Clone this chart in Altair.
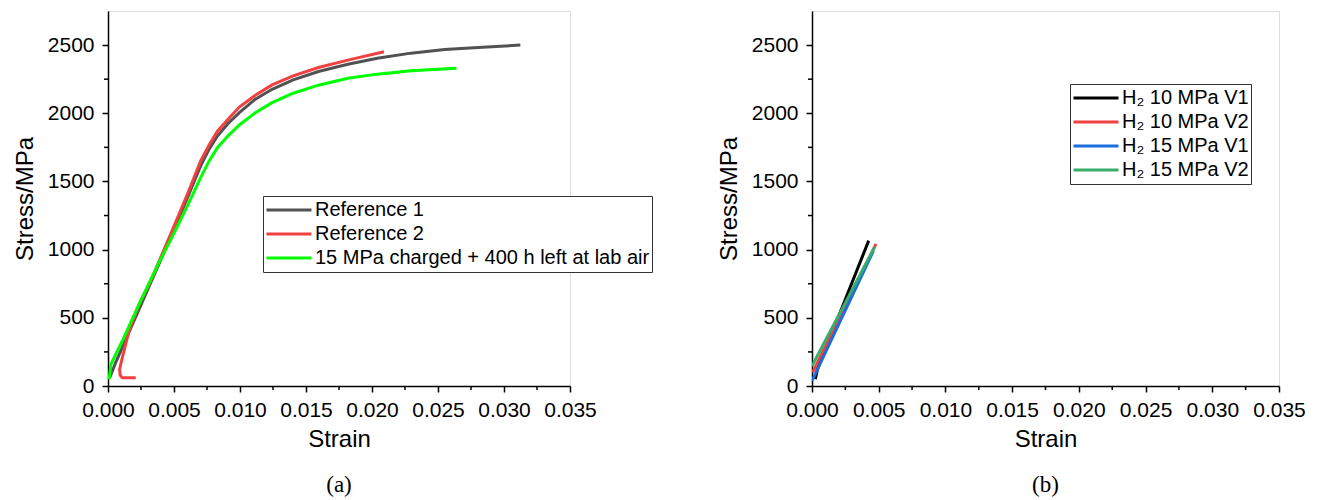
import altair as alt
import pandas as pd

# ---------------- Panel (a) data ----------------
ref1_strain = [0.00013, 0.00058, 0.00383, 0.00494, 0.00606, 0.00701, 0.00765, 0.00829, 0.00908,
               0.00995, 0.01116, 0.01243, 0.01403, 0.01594, 0.01817, 0.0204, 0.02295, 0.0255,
               0.02837, 0.03124]
ref1_stress = [61, 171, 888, 1133, 1391, 1612, 1735, 1833, 1923,
               2004, 2103, 2176, 2245, 2306, 2360, 2404, 2441, 2468,
               2485, 2500]

ref2_strain = [0.0021, 0.00108, 0.00092, 0.00088, 0.00108, 0.00159, 0.00235, 0.00323, 0.00494,
               0.00606, 0.00701, 0.00765, 0.00829, 0.00908, 0.00995, 0.01116, 0.01243, 0.01403,
               0.01594, 0.01817, 0.02091]
ref2_stress = [61, 61, 80, 122, 207, 403, 599, 770, 1158,
               1416, 1649, 1766, 1869, 1955, 2046, 2132, 2208, 2274,
               2336, 2390, 2451]

h15_strain = [0.00008, 0.00023, 0.00108, 0.00235, 0.00383, 0.00494, 0.00606, 0.00701, 0.00765,
              0.00829, 0.00908, 0.00995, 0.01116, 0.01243, 0.01403, 0.01594, 0.01817, 0.0204,
              0.02295, 0.025, 0.0264]
h15_stress = [49, 161, 330, 599, 900, 1109, 1330, 1526, 1649,
              1747, 1833, 1914, 2004, 2078, 2147, 2206, 2257, 2287,
              2311, 2323, 2331]

series_a = ["Reference 1", "Reference 2", "15 MPa charged + 400 h left at lab air"]
colors_a = ["#515151", "#F14040", "#00FF00"]

# ---------------- Panel (b) data ----------------
b10v1_strain = [0.00025, 0.0004, 0.00425]
b10v1_stress = [50, 120, 1066]
b10v2_strain = [0.00005, 0.0048]
b10v2_stress = [100, 1042]
b15v1_strain = [0.0, 0.0046]
b15v1_stress = [37, 990]
b15v2_strain = [0.0, 0.0047]
b15v2_stress = [146, 1020]

series_b = ["H\u2082 10 MPa V1", "H\u2082 10 MPa V2", "H\u2082 15 MPa V1", "H\u2082 15 MPa V2"]
colors_b = ["#000000", "#F14040", "#1A6FDF", "#37AD6B"]

# ---------------- axes ----------------
x_major = [0.0, 0.005, 0.010, 0.015, 0.020, 0.025, 0.030, 0.035]
x_minor = [0.0025, 0.0075, 0.0125, 0.0175, 0.0225, 0.0275, 0.0325]
y_major = [0, 500, 1000, 1500, 2000, 2500]
y_minor = [250, 750, 1250, 1750, 2250]
x_domain = [0, 0.035]
y_domain = [0, 2750]

FONT = "Liberation Sans"
LABEL_FS = 21
TITLE_FS = 24
LEGEND_FS = 20


def long_df(names, xs_list, ys_list):
    rows = []
    for name, xs, ys in zip(names, xs_list, ys_list):
        for i, (x, y) in enumerate(zip(xs, ys)):
            rows.append({"series": name, "strain": x, "stress": y, "order": i})
    return pd.DataFrame(rows)


def panel(df, names, colors, w, h, lx, ly, caption):
    xaxis = alt.Axis(values=x_major, format=".3f", title="Strain", labelFontSize=LABEL_FS,
                     titleFontSize=TITLE_FS, titleFontWeight="normal", tickSize=6, labelPadding=7,
                     titlePadding=7, grid=False, domainColor="black", tickColor="black",
                     domainWidth=1.5, tickWidth=1.5, labelColor="black", titleColor="black",
                     labelFont=FONT, titleFont=FONT, labelFlush=False)
    yaxis = alt.Axis(values=y_major, format="d", title="Stress/MPa", labelFontSize=LABEL_FS,
                     titleFontSize=TITLE_FS, titleFontWeight="normal", tickSize=6, labelPadding=8,
                     titlePadding=10, grid=False, domainColor="black", tickColor="black",
                     domainWidth=1.5, tickWidth=1.5, labelColor="black", titleColor="black",
                     labelFont=FONT, titleFont=FONT)
    xs = alt.Scale(domain=x_domain, nice=False, zero=False)
    ys = alt.Scale(domain=y_domain, nice=False, zero=False)

    lines = alt.Chart(df).mark_line(strokeWidth=3, clip=True).encode(
        x=alt.X("strain:Q", scale=xs, axis=xaxis),
        y=alt.Y("stress:Q", scale=ys, axis=yaxis),
        color=alt.Color("series:N", sort=names,
                        scale=alt.Scale(domain=names, range=colors),
                        legend=alt.Legend(title=None, orient="none", legendX=lx, legendY=ly,
                                          symbolType="stroke", symbolSize=2025,
                                          symbolStrokeWidth=3, clipHeight=24,
                                          labelFontSize=LEGEND_FS, labelFont=FONT,
                                          labelColor="black",
                                          labelLimit=600, labelOffset=2, padding=2,
                                          rowPadding=0, strokeColor="#333333",
                                          fillColor="white")),
        order="order:Q",
    )

    xmin = alt.Chart(pd.DataFrame({"strain": x_minor})).mark_rule(
        color="black", strokeWidth=1.5).encode(
        x=alt.X("strain:Q", scale=xs, axis=xaxis),
        y=alt.value(h), y2=alt.value(h + 4))
    ymin = alt.Chart(pd.DataFrame({"stress": y_minor})).mark_rule(
        color="black", strokeWidth=1.5).encode(
        y=alt.Y("stress:Q", scale=ys, axis=yaxis),
        x=alt.value(0), x2=alt.value(-4))

    return alt.layer(lines, xmin, ymin).properties(
        width=w, height=h,
        title=alt.TitleParams(text=caption, orient="bottom", font="Liberation Serif",
                              fontSize=23, fontWeight="normal", color="black",
                              anchor="middle", frame="group", offset=23))


df_a = long_df(series_a, [ref1_strain, ref2_strain, h15_strain],
               [ref1_stress, ref2_stress, h15_stress])
df_b = long_df(series_b, [b10v1_strain, b10v2_strain, b15v1_strain, b15v2_strain],
               [b10v1_stress, b10v2_stress, b15v1_stress, b15v2_stress])

pa = panel(df_a, series_a, colors_a, 462, 375, 155, 185, "(a)")
pb = panel(df_b, series_b, colors_b, 467, 375, 258, 73, "(b)")

chart = alt.hconcat(pa, pb, spacing=242, bounds="flush").resolve_scale(
    color="independent").properties(
    padding={"left": 12, "top": 10, "right": 0, "bottom": 0}
).configure_view(stroke="#222222", strokeWidth=1.2).configure(background="white")

chart.save("out.html", embed_options={"renderer": "svg", "actions": False})
